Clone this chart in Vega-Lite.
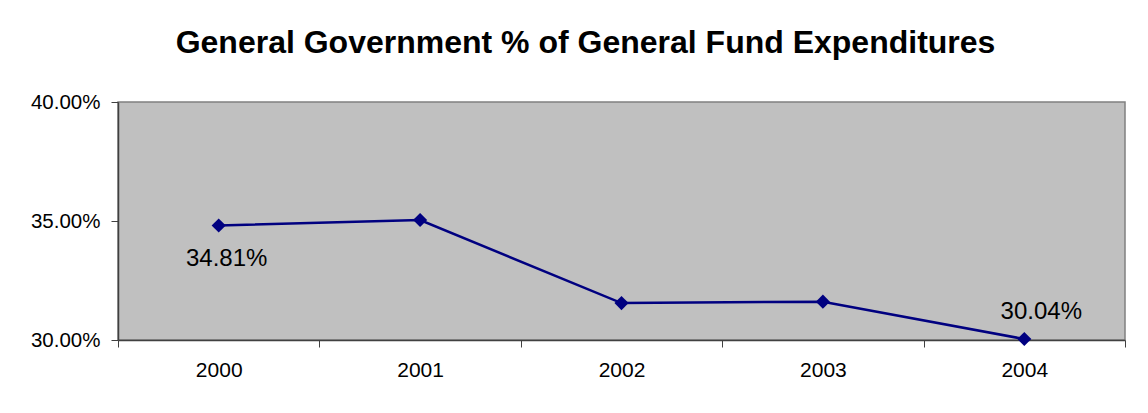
{
  "$schema": "https://vega.github.io/schema/vega-lite/v6.json",
  "autosize": {"type": "none"},
  "padding": {"left": 118, "top": 102, "right": 23, "bottom": 73},
  "width": 1007,
  "height": 238,
  "background": "white",
  "title": {
    "text": "General Government % of General Fund Expenditures",
    "font": "Liberation Sans",
    "fontSize": 32,
    "fontWeight": "bold",
    "color": "black",
    "anchor": "middle",
    "frame": "group",
    "dx": -36,
    "offset": 32
  },
  "config": {
    "view": {"fill": "#C0C0C0", "stroke": "#808080", "strokeWidth": 1.5},
    "axis": {
      "labelFont": "Liberation Sans",
      "labelColor": "black",
      "grid": false,
      "domainColor": "#404040",
      "domainWidth": 1.5,
      "tickColor": "#404040",
      "tickSize": 7,
      "title": null
    }
  },
  "data": {
    "values": [
      {"year": "2000", "pct": 0.3481, "label": "34.81%", "pos": "below"},
      {"year": "2001", "pct": 0.3504, "label": "", "pos": "none"},
      {"year": "2002", "pct": 0.3155, "label": "", "pos": "none"},
      {"year": "2003", "pct": 0.3161, "label": "", "pos": "none"},
      {"year": "2004", "pct": 0.3004, "label": "30.04%", "pos": "above"}
    ]
  },
  "encoding": {
    "x": {
      "field": "year",
      "type": "ordinal",
      "scale": {"type": "band", "paddingInner": 0, "paddingOuter": 0},
      "axis": {"labelAngle": 0, "labelFontSize": 21, "labelPadding": 12, "tickBand": "extent"}
    },
    "y": {
      "field": "pct",
      "type": "quantitative",
      "scale": {"domain": [0.3, 0.4], "nice": false, "zero": false},
      "axis": {"values": [0.3, 0.35, 0.4], "format": ".2%", "labelFontSize": 20.5, "labelPadding": 11}
    }
  },
  "layer": [
    {
      "mark": {"type": "line", "color": "#000080", "strokeWidth": 2.5}
    },
    {
      "mark": {"type": "point", "shape": "diamond", "filled": true, "color": "#000080", "opacity": 1, "size": 200}
    },
    {
      "transform": [{"filter": "datum.pos == 'below'"}],
      "mark": {"type": "text", "font": "Liberation Sans", "fontSize": 24, "color": "black", "baseline": "top", "dy": 21, "dx": 8},
      "encoding": {"text": {"field": "label"}}
    },
    {
      "transform": [{"filter": "datum.pos == 'above'"}],
      "mark": {"type": "text", "font": "Liberation Sans", "fontSize": 24, "color": "black", "baseline": "bottom", "dy": -15, "dx": 17},
      "encoding": {"text": {"field": "label"}}
    }
  ]
}
